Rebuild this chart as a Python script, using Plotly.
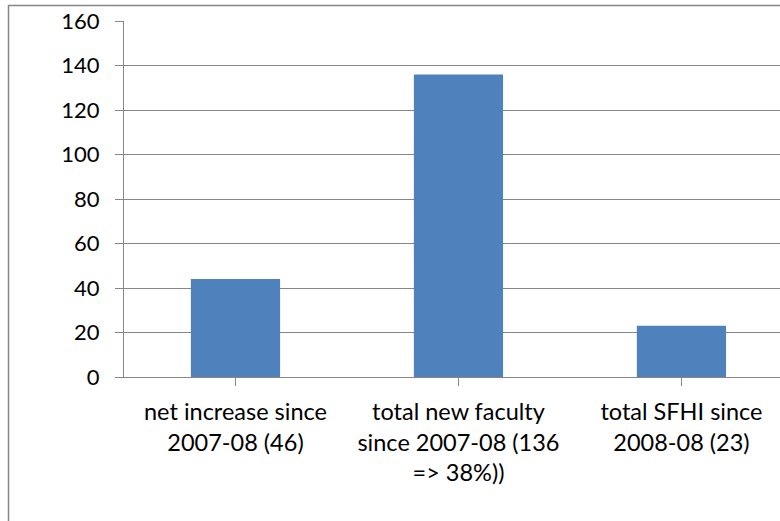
import plotly.graph_objects as go

categories = [
    "net increase since<br>2007-08 (46)",
    "total new faculty<br>since 2007-08 (136<br>=> 38%))",
    "total SFHI since<br>2008-08 (23)",
]
values = [44, 136, 23]
y_ticks = [0, 20, 40, 60, 80, 100, 120, 140, 160]

GRID = "#868686"
BAR = "#4F81BD"
FAMILY = "Lato, Liberation Sans, sans-serif"
YFONT = dict(family=FAMILY, size=22, color="#000000")
XFONT = dict(family=FAMILY, size=23.5, color="#000000")

fig = go.Figure()
fig.add_trace(go.Bar(
    x=list(range(len(categories))),
    y=values,
    marker=dict(color=BAR, line=dict(width=0)),
    width=0.4,
    hoverinfo="skip",
))

fig.update_layout(
    width=780, height=521,
    margin=dict(l=124, r=0, t=21, b=144, pad=0),
    paper_bgcolor="white", plot_bgcolor="white",
    showlegend=False,
    font=YFONT,
    xaxis=dict(
        range=[-0.5, 2.442],
        tickmode="array",
        tickvals=list(range(len(categories))),
        ticktext=categories,
        tickson="boundaries",
        ticks="outside", ticklen=8, tickcolor=GRID, tickwidth=1,
        showline=True, linecolor=GRID, linewidth=1,
        showgrid=False, zeroline=False,
        tickangle=0,
        ticklabelstandoff=6,
        tickfont=XFONT,
    ),
    yaxis=dict(
        range=[0, 160],
        tickmode="array", tickvals=y_ticks,
        ticks="outside", ticklen=8, tickcolor=GRID, tickwidth=1,
        showline=True, linecolor=GRID, linewidth=1,
        showgrid=True, gridcolor=GRID, gridwidth=1,
        zeroline=False,
        ticklabelstandoff=11,
        tickfont=YFONT,
    ),
    shapes=[dict(
        type="rect", xref="paper", yref="paper",
        x0=(8.5 - 124) / 656, x1=1.2,
        y0=-0.5, y1=(377 - 5.5) / 356,
        line=dict(color=GRID, width=1.5),
        fillcolor="rgba(0,0,0,0)",
        layer="above",
    )],
)

fig.write_html(
    "out.html",
    config={"displayModeBar": False},
    post_script="document.body.style.margin='0px';document.body.style.padding='0px';",
)
